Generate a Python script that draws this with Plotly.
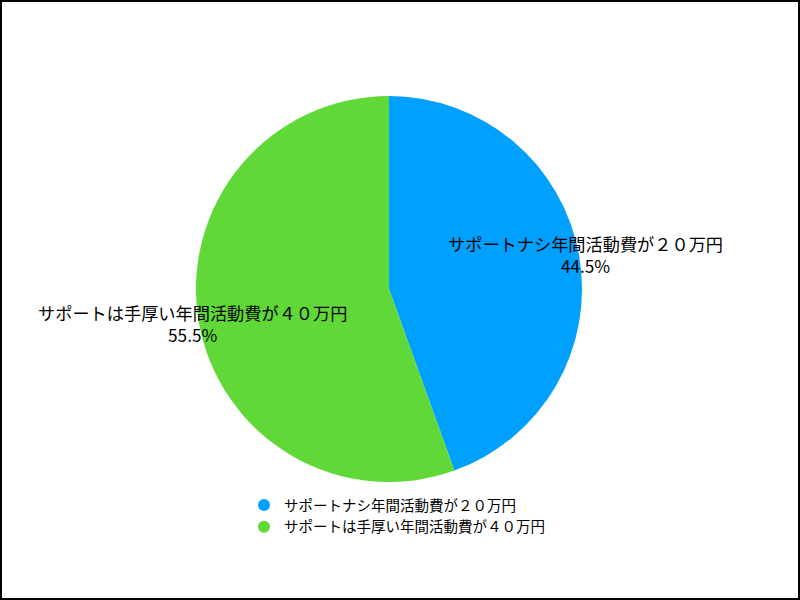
import math
import plotly.graph_objects as go

labels = ["サポートナシ年間活動費が２０万円", "サポートは手厚い年間活動費が４０万円"]
values = [44.5, 55.5]
colors = ["#00A0FF", "#5FD838"]

W, H = 800, 600
L, R, T, B = 0, 22, 96, 118
pw, ph = W - L - R, H - T - B

fig = go.Figure()
fig.add_trace(go.Pie(
    labels=labels, values=values, sort=False, direction="clockwise", rotation=0,
    marker=dict(colors=colors, line=dict(width=0)),
    textinfo="none", hoverinfo="label+percent", showlegend=False,
    domain=dict(x=[0, 1], y=[0, 1]),
))

# legend entries with circle markers
for lab, col in zip(labels, colors):
    fig.add_trace(go.Scatter(x=[None], y=[None], mode="markers", name=lab,
                             marker=dict(color=col, size=13, symbol="circle")))

# labels at mid-angle, slightly outside radius
total = sum(values)
cum = 0
cx, cy = 0.5, 0.5
rad_x = (ph / 2) / pw * 1.035
rad_y = 0.5 * 1.035
for lab, v in zip(labels, values):
    mid = (cum + v / 2) / total * 2 * math.pi
    cum += v
    x = cx + rad_x * math.sin(mid)
    y = cy + rad_y * math.cos(mid)
    fig.add_annotation(x=x, y=y, xref="paper", yref="paper", showarrow=False,
                       xanchor="center", yanchor="middle",
                       text=f"{lab}<br>{v:.1f}%", align="center",
                       font=dict(size=17.2, color="#000000"))

fig.add_shape(type="rect", xref="paper", yref="paper",
              x0=(1 - L) / pw, x1=(W - 1 - L) / pw,
              y0=(-B + 1) / ph, y1=(ph + T - 1) / ph,
              line=dict(color="black", width=2))

fig.update_layout(
    width=W, height=H,
    margin=dict(l=L, r=R, t=T, b=B),
    paper_bgcolor="white", plot_bgcolor="white",
    font=dict(family="Noto Sans CJK JP", color="#000000"),
    xaxis=dict(visible=False), yaxis=dict(visible=False),
    legend=dict(x=(244 - L) / pw, y=(ph - (489 - T)) / ph, xanchor="left", yanchor="top",
                font=dict(size=14.5), itemsizing="constant", tracegroupgap=0,
                bgcolor="rgba(0,0,0,0)"),
)

fig.write_html("out.html", config={"displayModeBar": False},
               post_script="document.body.style.margin='0';document.body.style.padding='0';")
